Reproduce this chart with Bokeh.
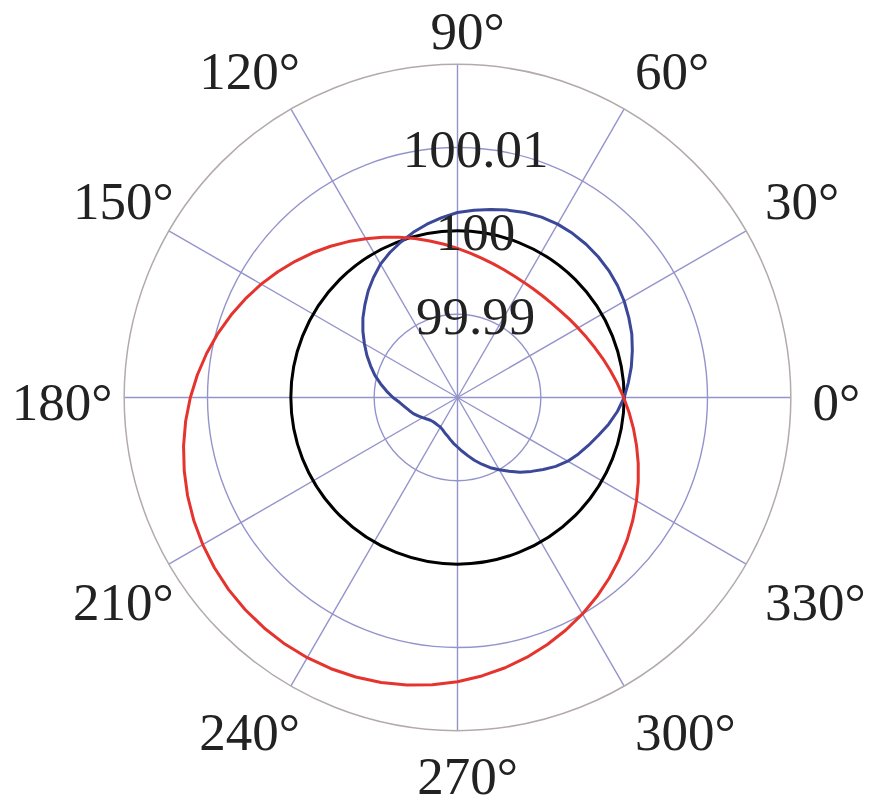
import math
from bokeh.plotting import figure
from bokeh.models import Range1d
from bokeh.core.properties import value
from bokeh.embed import file_html
from bokeh.resources import INLINE

# ---------------- data ----------------
R_MIN = 99.98          # radial value at the centre
R_MAX = 100.02         # radial value at the outer ring
ring_values = [99.99, 100.0, 100.01]
ring_labels = ["99.99", "100", "100.01"]
angle_ticks = [0, 30, 60, 90, 120, 150, 180, 210, 240, 270, 300, 330]
angle_labels = ["0°", "30°", "60°", "90°", "120°", "150°", "180°",
                "210°", "240°", "270°", "300°", "330°"]

theta_deg = list(range(0, 360, 5))

blue_r = [100.0000, 100.00058, 100.00118, 100.00172, 100.00226, 100.00268,
          100.0031, 100.00344, 100.0037, 100.00388, 100.0040, 100.00405,
          100.00402, 100.00388, 100.00362, 100.00328, 100.00292, 100.00256,
          100.0022, 100.00166, 100.00112, 100.00052, 99.99986, 99.9992,
          99.99848, 99.99758, 99.99668, 99.99572, 99.99482, 99.99386,
          99.9929, 99.9920, 99.9911, 99.99026, 99.98936, 99.98852,
          99.98774, 99.98696, 99.98642, 99.9860, 99.98564, 99.98522,
          99.98484, 99.9845, 99.98424, 99.98412, 99.98408, 99.98408,
          99.9841, 99.98426, 99.9845, 99.98474, 99.9851, 99.98552,
          99.98594, 99.98648, 99.98708, 99.9878, 99.98852, 99.9893,
          99.99002, 99.9908, 99.9917, 99.99254, 99.99344, 99.9944,
          99.99528, 99.99602, 99.99674, 99.99752, 99.99842, 99.99926]

red_r = [99.99994, 99.99926, 99.99862, 99.99805, 99.99753, 99.99708,
         99.99670, 99.99639, 99.99614, 99.99598, 99.99590, 99.99589,
         99.99595, 99.99609, 99.99631, 99.99660, 99.99696, 99.99740,
         99.99789, 99.99846, 99.99907, 99.99974, 100.00046, 100.00122,
         100.00201, 100.00284, 100.00369, 100.00456, 100.00543, 100.00632,
         100.00720, 100.00807, 100.00892, 100.00976, 100.01056, 100.01133,
         100.01206, 100.01275, 100.01338, 100.01395, 100.01447, 100.01492,
         100.01530, 100.01561, 100.01586, 100.01602, 100.01610, 100.01612,
         100.01605, 100.01591, 100.01569, 100.01540, 100.01504, 100.01460,
         100.01411, 100.01354, 100.01293, 100.01226, 100.01154, 100.01078,
         100.00999, 100.00916, 100.00831, 100.00744, 100.00657, 100.00568,
         100.00480, 100.00393, 100.00308, 100.00224, 100.00144, 100.00067]

black_value = 100.0

# ---------------- styling ----------------
S = 0.00012            # radial units per screen pixel
W, H = 870, 807
CX, CY = 457, 397      # centre in figure pixels (from left / from top)
GRID = "#9494cc"
OUTER = "#b3abab"
BLUE = "#3b4798"
RED = "#e5332e"
FONT = "Liberation Serif"
FS = "53px"
TXT = "#222222"
TY = 20                # correction: text renders this many px below its anchor


def polar_xy(vals, degs):
    xs, ys = [], []
    for v, d in zip(vals, degs):
        rr = v - R_MIN
        xs.append(rr * math.cos(math.radians(d)))
        ys.append(rr * math.sin(math.radians(d)))
    return xs, ys


p = figure(width=W, height=H, output_backend="svg", toolbar_location=None,
           x_range=Range1d(-CX * S, (W - CX) * S),
           y_range=Range1d(-(H - CY) * S, CY * S),
           min_border=0)
p.axis.visible = False
p.grid.visible = False
p.outline_line_color = None
p.background_fill_color = "white"
p.border_fill_color = "white"

# spokes
x1 = [(R_MAX - R_MIN) * math.cos(math.radians(a)) for a in angle_ticks]
y1 = [(R_MAX - R_MIN) * math.sin(math.radians(a)) for a in angle_ticks]
p.segment(x0=[0] * len(angle_ticks), y0=[0] * len(angle_ticks), x1=x1, y1=y1,
          line_color=GRID, line_width=1.4)
# rings
p.circle(x=[0] * len(ring_values), y=[0] * len(ring_values),
         radius=[v - R_MIN for v in ring_values],
         fill_color=None, line_color=GRID, line_width=1.4)
p.circle(x=[0], y=[0], radius=[R_MAX - R_MIN], fill_color=None,
         line_color=OUTER, line_width=1.5)

# curves
p.circle(x=[0], y=[0], radius=[black_value - R_MIN], fill_color=None,
         line_color="black", line_width=3)
bx, by = polar_xy(blue_r + blue_r[:1], theta_deg + theta_deg[:1])
p.line(bx, by, line_color=BLUE, line_width=3)
rx, ry = polar_xy(red_r + red_r[:1], theta_deg + theta_deg[:1])
p.line(rx, ry, line_color=RED, line_width=3)

# radial labels (centred a little right of the 90° spoke, straddling the ring)
for v, lab in zip(ring_values, ring_labels):
    p.text(x=[18 * S], y=[(v - R_MIN) + (TY - 22) * S], text=[lab],
           text_font=value(FONT), text_font_size=FS, text_color=TXT,
           text_align="center", text_baseline="alphabetic")

# angle labels
for a, lab in zip(angle_ticks, angle_labels):
    c, s = math.cos(math.radians(a)), math.sin(math.radians(a))
    if c > 0.1:
        align, x = "left", 355 * c
    elif c < -0.1:
        align, x = "right", 345 * c + (15 if s * s > 0.1 else 0)
    else:
        align, x = "center", 10
    if s > 0.9:
        y = 347
    elif s < -0.9:
        y = -398
    elif s > 0.1:
        y = 355 * s - 1
    elif s < -0.1:
        y = 355 * s - 47
    else:
        y = -24
    p.text(x=[x * S], y=[(y + TY) * S], text=[lab],
           text_font=value(FONT), text_font_size=FS, text_color=TXT,
           text_align=align, text_baseline="alphabetic")

open("out.html", "w").write(file_html(p, INLINE))
